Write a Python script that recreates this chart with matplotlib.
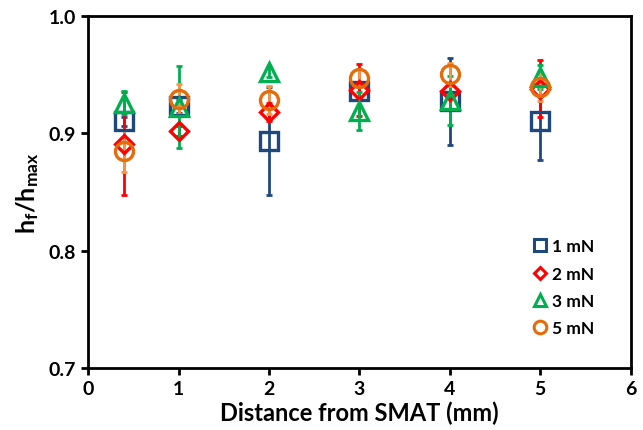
import matplotlib
matplotlib.use("Agg")
import matplotlib.pyplot as plt
from matplotlib.lines import Line2D

plt.rcParams['font.family'] = ['Lato', 'DejaVu Sans']
plt.rcParams['font.weight'] = 'bold'
plt.rcParams['mathtext.fontset'] = 'custom'
plt.rcParams['mathtext.rm'] = 'Lato:bold'
plt.rcParams['mathtext.it'] = 'Lato:bold'
plt.rcParams['mathtext.bf'] = 'Lato:bold'
plt.rcParams['mathtext.default'] = 'rm'

distance = [0.4, 1, 2, 3, 4, 5]
series_labels = ['1 mN', '2 mN', '3 mN', '5 mN']
y_1mN = [0.910, 0.923, 0.893, 0.936, 0.927, 0.910]
e_1mN = [0.004, 0.006, 0.046, 0.006, 0.037, 0.033]
y_2mN = [0.891, 0.902, 0.918, 0.937, 0.936, 0.938]
e_2mN = [0.044, 0.004, 0.008, 0.022, 0.006, 0.024]
y_3mN = [0.926, 0.922, 0.952, 0.919, 0.928, 0.948]
e_3mN = [0.010, 0.035, 0.004, 0.016, 0.021, 0.010]
y_5mN = [0.885, 0.929, 0.928, 0.947, 0.950, 0.939]
e_5mN = [0.018, 0.013, 0.012, 0.008, 0.010, 0.012]

x_ticks = [0, 1, 2, 3, 4, 5, 6]
y_ticks = [0.7, 0.8, 0.9, 1.0]

fig = plt.figure(figsize=(6.43, 4.31), dpi=100)
ax = fig.add_axes([0.137, 0.144, 0.844, 0.817])

styles = [
    (y_1mN, e_1mN, 's', '#1F497D', '#1F497D', 12.5),
    (y_2mN, e_2mN, 'D', '#FF0000', '#FF0000', 9),
    (y_3mN, e_3mN, '^', '#00B050', '#00B050', 12.5),
    (y_5mN, e_5mN, 'o', '#E46C0A', '#F79646', 13),
]
handles = []
for (yv, ev, mk, mc, ec, ms), lab in zip(styles, series_labels):
    ax.errorbar(distance, yv, yerr=ev, fmt='none', ecolor=ec, elinewidth=2,
                capsize=2, capthick=2, zorder=2)
    ax.plot(distance, yv, linestyle='none', marker=mk, markersize=ms,
            markerfacecolor='none', markeredgecolor=mc, markeredgewidth=2.4, zorder=3)
    handles.append(Line2D([], [], linestyle='none', marker=mk, markersize=ms * 0.7,
                          markerfacecolor='none', markeredgecolor=mc, markeredgewidth=2.2,
                          label=lab))

ax.set_xlim(0, 6)
ax.set_ylim(0.7, 1.0)
ax.set_xticks(x_ticks)
ax.set_yticks(y_ticks)
ax.set_yticklabels([f'{v:.1f}' for v in y_ticks])
for s in ax.spines.values():
    s.set_linewidth(2)
ax.tick_params(direction='out', length=5, width=2, labelsize=14)
for t in ax.get_xticklabels() + ax.get_yticklabels():
    t.set_fontweight('bold')

ax.set_xlabel('Distance from SMAT (mm)', fontsize=17, fontweight='bold', labelpad=3)
ax.set_ylabel(r'$h_f/h_{max}$', fontsize=18, labelpad=6)

leg = ax.legend(handles=handles, loc='lower right', bbox_to_anchor=(0.945, 0.07),
                frameon=False, fontsize=12.5, handlelength=0.8, handletextpad=0.3,
                labelspacing=0.65, borderaxespad=0)
for t in leg.get_texts():
    t.set_fontweight('bold')

fig.savefig('out.png', dpi=100)
